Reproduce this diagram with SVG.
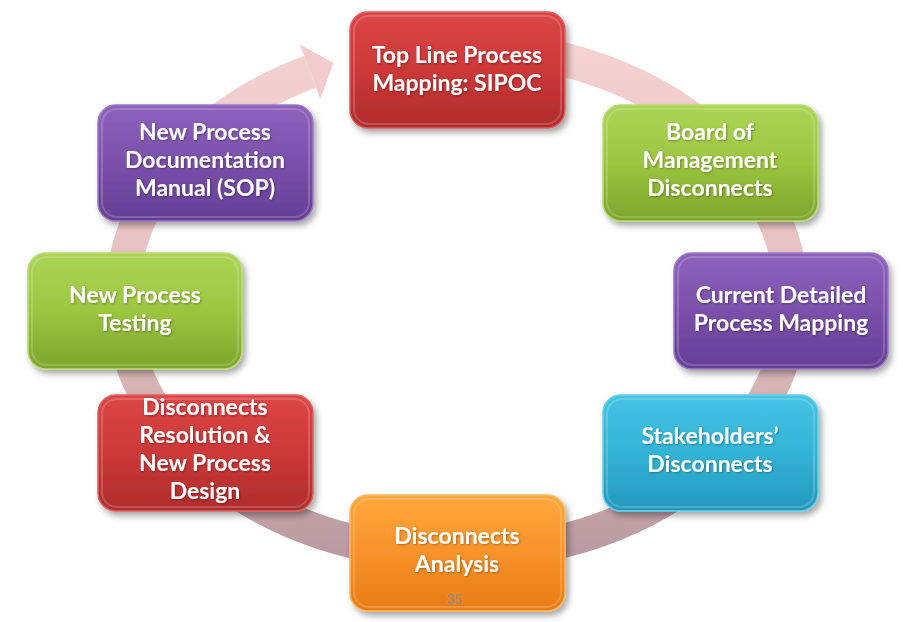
<svg xmlns="http://www.w3.org/2000/svg" width="903" height="622" viewBox="0 0 903 622">
<defs>
  <linearGradient id="ringG" gradientUnits="userSpaceOnUse" x1="0" y1="40" x2="0" y2="560">
    <stop offset="0" stop-color="#f5d2d2"/>
    <stop offset="0.55" stop-color="#e2bcbc"/>
    <stop offset="1" stop-color="#b89aa0"/>
  </linearGradient>
  <linearGradient id="gRed" x1="0" y1="0" x2="0" y2="1">
    <stop offset="0" stop-color="#dc4646"/>
    <stop offset="0.5" stop-color="#cc3838"/>
    <stop offset="1" stop-color="#b02c2c"/>
  </linearGradient>
  <linearGradient id="gGreen" x1="0" y1="0" x2="0" y2="1">
    <stop offset="0" stop-color="#acd556"/>
    <stop offset="0.5" stop-color="#9cc540"/>
    <stop offset="1" stop-color="#7ea52c"/>
  </linearGradient>
  <linearGradient id="gPurple" x1="0" y1="0" x2="0" y2="1">
    <stop offset="0" stop-color="#8e62bc"/>
    <stop offset="0.5" stop-color="#7a50aa"/>
    <stop offset="1" stop-color="#643e94"/>
  </linearGradient>
  <linearGradient id="gCyan" x1="0" y1="0" x2="0" y2="1">
    <stop offset="0" stop-color="#46c4e4"/>
    <stop offset="0.5" stop-color="#33b3d6"/>
    <stop offset="1" stop-color="#2398bc"/>
  </linearGradient>
  <linearGradient id="gOrange" x1="0" y1="0" x2="0" y2="1">
    <stop offset="0" stop-color="#ffa83c"/>
    <stop offset="0.5" stop-color="#f8922a"/>
    <stop offset="1" stop-color="#e87c16"/>
  </linearGradient>
  <filter id="sh" x="-10%" y="-10%" width="125%" height="130%">
    <feDropShadow dx="3" dy="4" stdDeviation="3" flood-color="#000" flood-opacity="0.35"/>
  </filter>
  <filter id="tsh" x="-10%" y="-20%" width="120%" height="150%">
    <feDropShadow dx="1" dy="1" stdDeviation="0.8" flood-color="#000" flood-opacity="0.3"/>
  </filter>
</defs>
<style>
  .box { stroke-width: 1.5; filter: url(#sh); }
  .inner { fill: none; stroke: #ffffff; stroke-opacity: 0.18; stroke-width: 2; }
  .red { fill: url(#gRed); stroke: #e06060; }
  .green { fill: url(#gGreen); stroke: #b8dc78; }
  .purple { fill: url(#gPurple); stroke: #9a78c4; }
  .cyan { fill: url(#gCyan); stroke: #66d0ec; }
  .orange { fill: url(#gOrange); stroke: #ffb860; }
  .lbl { font-family: Lato, "Liberation Sans", sans-serif; font-weight: bold; font-size: 23px; fill: #ffffff; text-anchor: middle; filter: url(#tsh); }
  .num { font-family: Lato, "Liberation Sans", sans-serif; font-size: 13px; fill: #8c8c9c; text-anchor: middle; }
</style>
<rect width="903" height="622" fill="#ffffff"/>
<g id="connectors">
  <path d="M 428,47 A 335 254 0 1 1 310.1,71.7" fill="none" stroke="url(#ringG)" stroke-width="34"/>
  <polygon points="300,44.5 333.5,63 320.2,98.9" fill="#f2cccc"/>
</g>
<g id="n1">
  <rect class="box red" x="350" y="12" width="215" height="116" rx="18"/>
  <rect class="inner" x="354" y="16" width="207" height="108" rx="15"/>
  <text class="lbl" x="457" y="63">Top Line Process</text>
  <text class="lbl" x="457" y="91">Mapping: SIPOC</text>
</g>
<g id="n2">
  <rect class="box green" x="603" y="105" width="215" height="116" rx="18"/>
  <rect class="inner" x="607" y="109" width="207" height="108" rx="15"/>
  <text class="lbl" x="710" y="140">Board of</text>
  <text class="lbl" x="710" y="168">Management</text>
  <text class="lbl" x="710" y="196">Disconnects</text>
</g>
<g id="n3">
  <rect class="box purple" x="674" y="253" width="214" height="116" rx="18"/>
  <rect class="inner" x="678" y="257" width="206" height="108" rx="15"/>
  <text class="lbl" x="781" y="303">Current Detailed</text>
  <text class="lbl" x="781" y="331">Process Mapping</text>
</g>
<g id="n4">
  <rect class="box cyan" x="603" y="395" width="215" height="116" rx="18"/>
  <rect class="inner" x="607" y="399" width="207" height="108" rx="15"/>
  <text class="lbl" x="710" y="444">Stakeholders’</text>
  <text class="lbl" x="710" y="472">Disconnects</text>
</g>
<g id="n5">
  <rect class="box orange" x="350" y="495" width="215" height="116" rx="18"/>
  <rect class="inner" x="354" y="499" width="207" height="108" rx="15"/>
  <text class="lbl" x="457" y="544">Disconnects</text>
  <text class="lbl" x="457" y="572">Analysis</text>
  <text class="num" x="454" y="604">35</text>
</g>
<g id="n6">
  <rect class="box red" x="98" y="395" width="215" height="116" rx="18"/>
  <rect class="inner" x="102" y="399" width="207" height="108" rx="15"/>
  <text class="lbl" x="205" y="415">Disconnects</text>
  <text class="lbl" x="205" y="443">Resolution &amp;</text>
  <text class="lbl" x="205" y="471">New Process</text>
  <text class="lbl" x="205" y="499">Design</text>
</g>
<g id="n7">
  <rect class="box green" x="28" y="253" width="214" height="116" rx="18"/>
  <rect class="inner" x="32" y="257" width="206" height="108" rx="15"/>
  <text class="lbl" x="135" y="303">New Process</text>
  <text class="lbl" x="135" y="331">Testing</text>
</g>
<g id="n8">
  <rect class="box purple" x="98" y="105" width="215" height="116" rx="18"/>
  <rect class="inner" x="102" y="109" width="207" height="108" rx="15"/>
  <text class="lbl" x="205" y="140">New Process</text>
  <text class="lbl" x="205" y="168">Documentation</text>
  <text class="lbl" x="205" y="196">Manual (SOP)</text>
</g>
</svg>
